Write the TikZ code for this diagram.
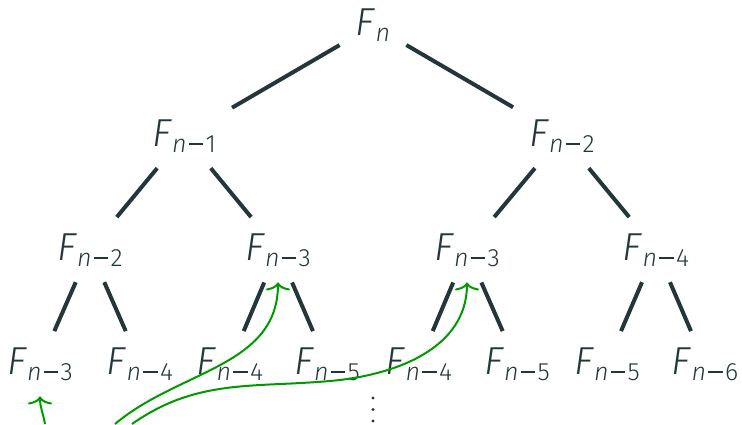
\documentclass[tikz,border=0pt]{standalone}
\usepackage{fontspec}
\setmainfont{Fira Sans Light}[ItalicFont={Fira Sans Light Italic}]
\usetikzlibrary{arrows.meta}
\definecolor{fg}{HTML}{23373B}
\definecolor{arr}{RGB}{0,153,0}
\newcommand{\mn}{\kern2pt\rule[7pt]{14.5pt}{1.7pt}\kern2.5pt}
\newcommand{\FF}[1]{\textit{F}\raisebox{-6pt}{\fontsize{25}{27}\selectfont\textit{n}#1}}
\begin{document}
\begin{tikzpicture}[x=1pt,y=1pt,
  fib/.style={anchor=base, inner sep=16pt, text=fg, font=\fontsize{39}{44}\selectfont},
  edge/.style={draw=fg, line width=4pt},
  link/.style={draw=arr, line width=2pt, -{To[length=8pt,width=24pt]}}]
\useasboundingbox (0,0) rectangle (742,424);
\node[fib] (r) at (373,388) {\FF{}};
\node[fib] (a) at (184,278) {\FF{\mn1}};
\node[fib] (b) at (562,278) {\FF{\mn2}};
\node[fib] (aa) at (90,164) {\FF{\mn2}};
\node[fib] (ab) at (278,164) {\FF{\mn3}};
\node[fib] (ba) at (467,164) {\FF{\mn3}};
\node[fib] (bb) at (656,164) {\FF{\mn4}};
\node[fib] (aaa) at (40,50) {\FF{\mn3}};
\node[fib] (aab) at (140,50) {\FF{\mn4}};
\node[fib] (aba) at (230,50) {\FF{\mn4}};
\node[fib] (abb) at (327,50) {\FF{\mn5}};
\node[fib] (baa) at (419,50) {\FF{\mn4}};
\node[fib] (bab) at (517,50) {\FF{\mn5}};
\node[fib] (bba) at (607,50) {\FF{\mn5}};
\node[fib] (bbb) at (705,50) {\FF{\mn6}};
\draw[edge] (r) -- (a);
\draw[edge] (r) -- (b);
\draw[edge] (a) -- (aa);
\draw[edge] (a) -- (ab);
\draw[edge] (b) -- (ba);
\draw[edge] (b) -- (bb);
\draw[edge] (aa) -- (aaa);
\draw[edge] (aa) -- (aab);
\draw[edge] (ab) -- (aba);
\draw[edge] (ab) -- (abb);
\draw[edge] (ba) -- (baa);
\draw[edge] (ba) -- (bab);
\draw[edge] (bb) -- (bba);
\draw[edge] (bb) -- (bbb);
\foreach \yy in {3,14.5,26} \fill[fg] (373,\yy) circle (1.7);
\coordinate (s1) at (45,0);
\coordinate (s2) at (115,0);
\coordinate (s3) at (132,0);
\coordinate (m3) at (330,43);
\draw[link] (s1) to[out=100,in=-90] (aaa.south);
\draw[link] (s2) to[out=40,in=-90] (ab.south);
\draw[link] (s3) to[out=35,in=185] (m3) to[out=5,in=-90] (ba.south);
\end{tikzpicture}
\end{document}
